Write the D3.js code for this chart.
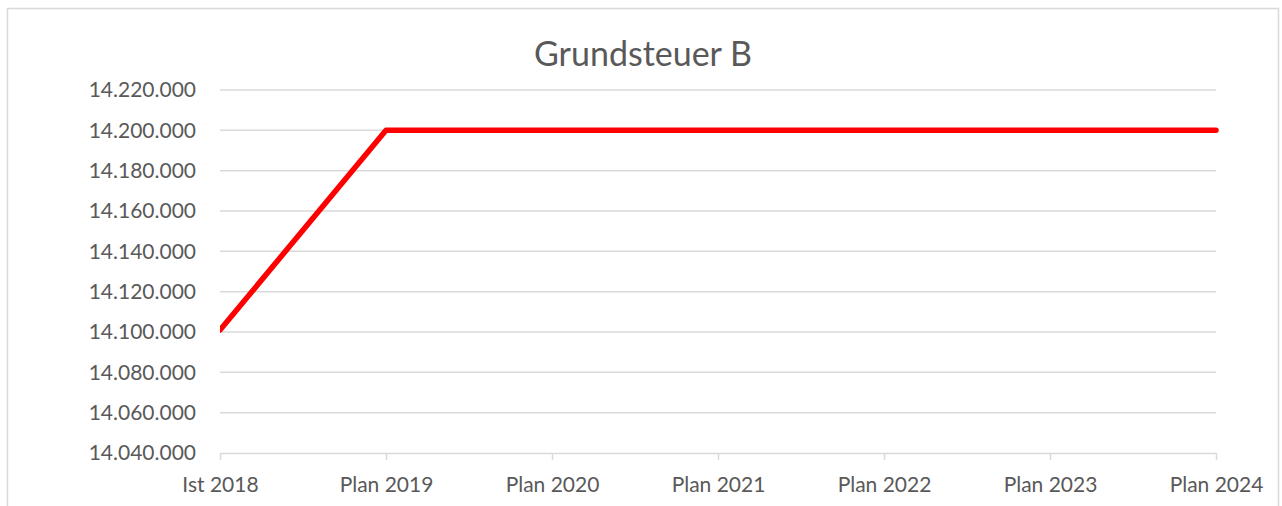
<!DOCTYPE html>
<html lang="de">
<head>
<meta charset="UTF-8"/>
<title>Grundsteuer B</title>
<script src="https://d3js.org/d3.v7.min.js"></script>
<style>
	body { margin: 0; background: #fff; }
	text { font-family: Lato, "Open Sans", sans-serif; fill: #595959; }
</style>
</head>
<body>
<script>
var categories = ["Ist 2018", "Plan 2019", "Plan 2020", "Plan 2021", "Plan 2022", "Plan 2023", "Plan 2024"];
var values = [14101000, 14200000, 14200000, 14200000, 14200000, 14200000, 14200000];
var yTicks = [14040000, 14060000, 14080000, 14100000, 14120000, 14140000, 14160000, 14180000, 14200000, 14220000];
var title = "Grundsteuer B";

var w = 1282, h = 506;
var plotLeft = 220, plotRight = 1216, plotTop = 90, plotBottom = 453;

var svg = d3.select("body").append("svg")
	.attr("width", w)
	.attr("height", h);

// chart frame
svg.append("rect")
	.attr("x", 7.5).attr("y", 8.5)
	.attr("width", 1271).attr("height", 520)
	.attr("fill", "none")
	.attr("stroke", "#d9d9d9")
	.attr("stroke-width", 1.5);

var xScale = d3.scalePoint()
	.domain(categories)
	.range([plotLeft, plotRight]);

var yScale = d3.scaleLinear()
	.domain([14040000, 14220000])
	.range([plotBottom, plotTop]);

var fmt = function(d) { return d3.format(",")(d).replace(/,/g, "."); };

// gridlines
svg.append("g")
	.selectAll("line")
	.data(yTicks.slice(1))
	.enter()
	.append("line")
	.attr("x1", plotLeft).attr("x2", plotRight)
	.attr("y1", function(d) { return yScale(d); })
	.attr("y2", function(d) { return yScale(d); })
	.attr("stroke", "#d9d9d9")
	.attr("stroke-width", 1.5);

// y labels
var yAxis = d3.axisLeft(yScale)
	.tickValues(yTicks)
	.tickFormat(fmt)
	.tickSize(0)
	.tickPadding(24);
var gy = svg.append("g")
	.attr("transform", "translate(" + plotLeft + ",0)")
	.call(yAxis);
gy.select(".domain").remove();
gy.selectAll("text").attr("font-size", "21px").attr("fill", "#595959");

// x axis
var xAxis = d3.axisBottom(xScale)
	.tickSizeInner(7)
	.tickSizeOuter(0)
	.tickPadding(17);
var gx = svg.append("g")
	.attr("transform", "translate(0," + plotBottom + ")")
	.call(xAxis);
gx.select(".domain").attr("stroke", "#d9d9d9").attr("stroke-width", 1.5);
gx.selectAll(".tick line").attr("stroke", "#d9d9d9").attr("stroke-width", 1.5);
gx.selectAll("text").attr("font-size", "21px").attr("fill", "#595959");

// line
svg.append("clipPath").attr("id", "clip")
	.append("rect")
	.attr("x", plotLeft).attr("y", 0)
	.attr("width", w - plotLeft).attr("height", h);

var line = d3.line()
	.x(function(d, i) { return xScale(categories[i]); })
	.y(function(d) { return yScale(d); });

svg.append("path")
	.datum(values)
	.attr("d", line)
	.attr("clip-path", "url(#clip)")
	.attr("fill", "none")
	.attr("stroke", "#ff0000")
	.attr("stroke-width", 5.5)
	.attr("stroke-linejoin", "round")
	.attr("stroke-linecap", "round");

// title
svg.append("text")
	.attr("x", 643)
	.attr("y", 66)
	.attr("text-anchor", "middle")
	.attr("font-size", "34px")
	.text(title);
</script>
</body>
</html>
